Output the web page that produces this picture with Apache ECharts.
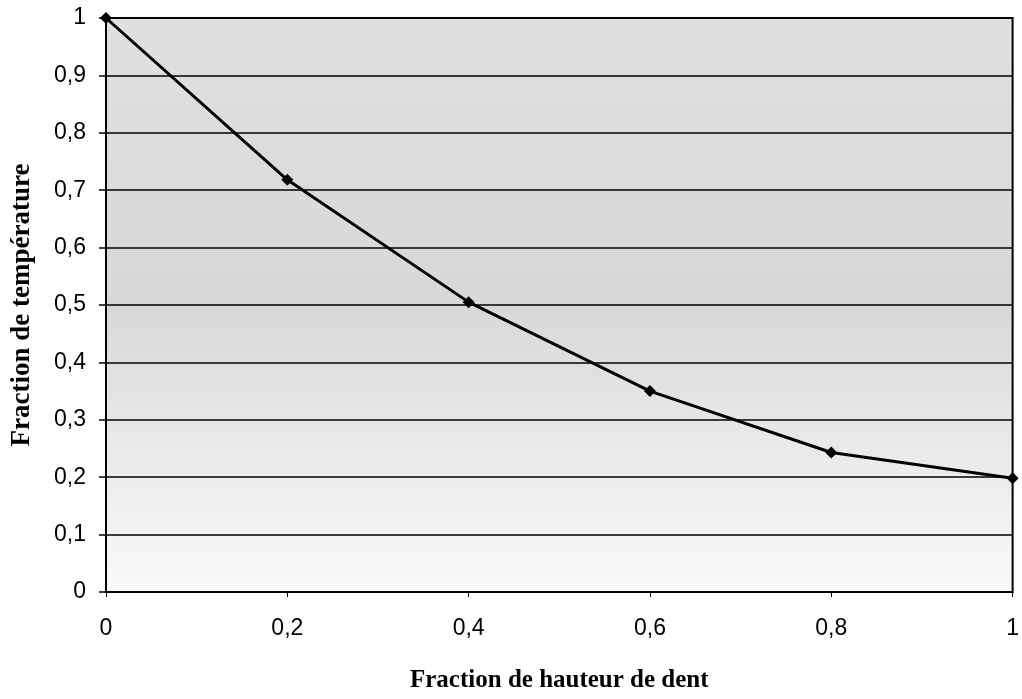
<!DOCTYPE html>
<html>
<head>
	<meta charset="utf-8">
	<title>chart</title>
</head>
<body style="margin:0;">

<div id="graph" style="width: 1022px; height: 699px;"></div>
<script type="text/javascript" src="https://cdn.jsdelivr.net/npm/echarts@6/dist/echarts.min.js"></script>
<script type="text/javascript">
	// fraction de hauteur de dent / fraction de température
	const hauteur = [0, 0.2, 0.4, 0.6, 0.8, 1];
	const temperature = [1, 0.718, 0.505, 0.35, 0.243, 0.198];

	const virgule = v => String(+v.toFixed(2)).replace('.', ',');

	let chart = echarts.init(document.getElementById("graph"));
	chart.setOption({
		animation: false,
		backgroundColor: '#fff',
		grid: {
			left: 106, right: 7, top: 18, bottom: 107,
			show: true,
			borderColor: '#000',
			borderWidth: 2,
			backgroundColor: new echarts.graphic.LinearGradient(0, 0, 0, 1, [
				{offset: 0, color: '#e0e0e0'},
				{offset: 0.5, color: '#d8d8d8'},
				{offset: 0.7, color: '#e6e6e6'},
				{offset: 0.85, color: '#f0f0f0'},
				{offset: 1, color: '#fafafa'}
			])
		},
		xAxis: {
			type: 'value',
			min: 0, max: 1, interval: 0.2,
			name: 'Fraction de hauteur de dent',
			nameLocation: 'middle',
			nameGap: 76,
			nameTextStyle: {fontFamily: 'Liberation Serif', fontWeight: 'bold', fontSize: 25, color: '#000'},
			axisLine: {show: true, lineStyle: {color: '#000', width: 2}},
			axisTick: {show: true, length: 5, lineStyle: {color: '#000', width: 1}},
			axisLabel: {formatter: virgule, margin: 25, fontFamily: 'Liberation Sans', fontSize: 23, color: '#000'},
			splitLine: {show: false}
		},
		yAxis: {
			type: 'value',
			min: 0, max: 1, interval: 0.1,
			name: 'Fraction de température',
			nameLocation: 'middle',
			nameGap: 70,
			nameTextStyle: {fontFamily: 'Liberation Serif', fontWeight: 'bold', fontSize: 27, color: '#000'},
			axisLine: {show: true, lineStyle: {color: '#000', width: 2}},
			axisTick: {show: true, length: 7, lineStyle: {color: '#000', width: 1.5}},
			axisLabel: {formatter: virgule, margin: 20, fontFamily: 'Liberation Sans', fontSize: 23, color: '#000'},
			splitLine: {show: true, lineStyle: {color: '#000', width: 1.5}}
		},
		series: [{
			type: 'line',
			data: hauteur.map((x, i) => [x, temperature[i]]),
			symbol: 'diamond',
			symbolSize: 12,
			lineStyle: {color: '#000', width: 3},
			itemStyle: {color: '#000'},
			clip: false
		}]
	});
</script>
</body>
</html>
